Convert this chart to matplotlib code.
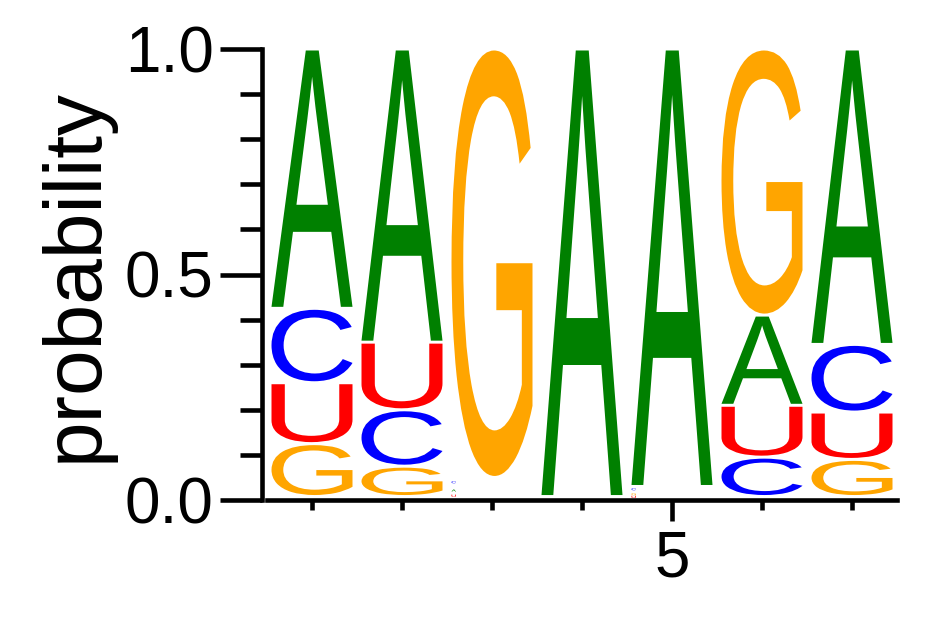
import matplotlib
matplotlib.use('Agg')
import matplotlib.pyplot as plt
import numpy as np
from matplotlib.textpath import TextPath
from matplotlib.patches import PathPatch
from matplotlib.font_manager import FontProperties
from matplotlib.transforms import Affine2D
from matplotlib.ticker import MultipleLocator, FixedLocator

plt.rcParams['font.family'] = ['Liberation Sans', 'DejaVu Sans']

positions = [1, 2, 3, 4, 5, 6, 7]
prob_A = [0.575, 0.65, 0.016, 1.0, 0.97, 0.2, 0.655]
prob_C = [0.165, 0.125, 0.021, 0.0, 0.012, 0.095, 0.15]
prob_G = [0.125, 0.075, 0.95, 0.0, 0.01, 0.59, 0.09]
prob_U = [0.135, 0.15, 0.013, 0.0, 0.008, 0.115, 0.105]

letters = ['A', 'C', 'G', 'U']
colors = {'A': '#008000', 'C': '#0000ff', 'G': '#ffa500', 'U': '#ff0000'}

glyph_font = FontProperties(family='Liberation Sans')


def draw_letter(ax, ch, x, y0, h, first=False, width=0.9, gap=0.0066):
    path = TextPath((0, 0), ch, size=1, prop=glyph_font)
    ext = path.get_extents()
    left = x - width / 2
    if h < 0.03:
        # tiny letters: a small mark at the left edge of the column
        gh = 0.005
        bot = y0 + h / 2 - gh / 2 + (0.003 if first else 0)
        sy = gh / ext.height
        sx = 0.05 / ext.width
    else:
        pad_b = 0.011 if first else gap / 2
        bot = y0 + pad_b
        top = y0 + h - gap / 2
        sy = (top - bot) / ext.height
        sx = width / ext.width
    tr = Affine2D().translate(-ext.x0, -ext.y0).scale(sx, sy).translate(left, bot)
    patch = PathPatch(tr.transform_path(path), facecolor=colors[ch],
                      edgecolor='none', lw=0)
    ax.add_patch(patch)


fig = plt.figure(figsize=(9.42, 6.17), dpi=100)
ax = fig.add_axes([267 / 942, 117 / 617, 630 / 942, 451 / 617])

table = {'A': prob_A, 'C': prob_C, 'G': prob_G, 'U': prob_U}
for i, pos in enumerate(positions):
    vals = sorted([(table[l][i], l) for l in letters])
    y = 0.0
    first = True
    for v, l in vals:
        if v > 0:
            draw_letter(ax, l, pos, y, v, first=first)
            first = False
        y += v

ax.set_xlim(0.5, 7.5)
ax.set_ylim(0, 1)

for side in ['top', 'right']:
    ax.spines[side].set_visible(False)
ax.spines['left'].set_position(('outward', 3.5))
ax.spines['left'].set_linewidth(3.3)
ax.spines['bottom'].set_linewidth(3.3)

ax.yaxis.set_major_locator(FixedLocator([0, 0.5, 1.0]))
ax.yaxis.set_minor_locator(MultipleLocator(0.1))
ax.set_yticklabels(['0.0', '0.5', '1.0'])
ax.xaxis.set_major_locator(FixedLocator([5]))
ax.xaxis.set_minor_locator(FixedLocator(positions))
ax.set_xticklabels(['5'])

ax.tick_params(axis='y', which='major', length=30, width=3.3, labelsize=46, pad=5)
ax.tick_params(axis='y', which='minor', length=16, width=3.3)
ax.tick_params(axis='x', which='major', length=15, width=3.3, labelsize=46, pad=6)
ax.tick_params(axis='x', which='minor', length=7, width=3.3)

ax.set_ylabel('probability', fontsize=59, labelpad=8)

plt.savefig('out.png', dpi=100)
